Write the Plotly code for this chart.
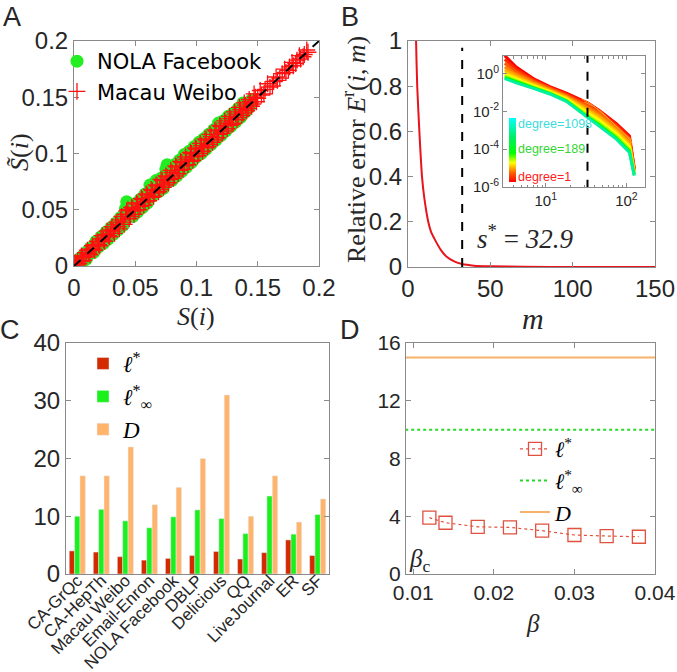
import plotly.graph_objects as go

W, H = 677, 672
SANS = "Liberation Sans, Arial, sans-serif"
WIDE = "DejaVu Sans, Verdana, sans-serif"
SERIF = "Liberation Serif, Times New Roman, serif"
AXC = "#8a8a8a"
TXT = "#262626"

# ---------------- Panel A data ----------------
nola_S = [0.000, 0.001, 0.002, 0.003, 0.004, 0.005, 0.006, 0.008, 0.009, 0.011, 0.012, 0.014, 0.015, 0.017, 0.019,
          0.021, 0.023, 0.025, 0.027, 0.029, 0.031, 0.033, 0.035, 0.037, 0.039, 0.041, 0.043, 0.044, 0.045, 0.047,
          0.049, 0.051, 0.053, 0.055, 0.057, 0.059, 0.061, 0.063, 0.065, 0.066, 0.068, 0.070, 0.072, 0.074, 0.076,
          0.077, 0.079, 0.081, 0.083, 0.085, 0.087, 0.089, 0.091, 0.093, 0.095, 0.097, 0.099, 0.101, 0.103, 0.105,
          0.107, 0.109, 0.111, 0.113, 0.115, 0.117, 0.119, 0.121, 0.123, 0.125, 0.127, 0.129, 0.131, 0.133, 0.135,
          0.137, 0.139, 0.141, 0.143, 0.145,
          0.002, 0.004, 0.007, 0.010, 0.013, 0.016, 0.018, 0.020, 0.022, 0.024, 0.026, 0.028, 0.030, 0.032, 0.034,
          0.036, 0.038, 0.040, 0.042, 0.046, 0.048, 0.050, 0.052, 0.054, 0.056, 0.058, 0.060, 0.062, 0.064, 0.067,
          0.069, 0.071, 0.073, 0.075, 0.078, 0.080, 0.082, 0.084, 0.086, 0.088, 0.090, 0.092, 0.094, 0.096, 0.098,
          0.100, 0.102, 0.104, 0.106, 0.108, 0.110, 0.112, 0.114, 0.116, 0.118, 0.120, 0.122, 0.124, 0.126, 0.128,
          0.130, 0.132, 0.134, 0.136, 0.138, 0.140]
nola_St = [0.001, 0.003, 0.001, 0.005, 0.003, 0.007, 0.005, 0.010, 0.007, 0.013, 0.010, 0.016, 0.013, 0.019, 0.017,
           0.023, 0.021, 0.028, 0.025, 0.032, 0.029, 0.036, 0.034, 0.040, 0.038, 0.045, 0.057, 0.054, 0.047, 0.046,
           0.052, 0.050, 0.056, 0.054, 0.061, 0.058, 0.065, 0.069, 0.073, 0.065, 0.072, 0.075, 0.070, 0.078, 0.090,
           0.085, 0.082, 0.080, 0.087, 0.084, 0.091, 0.096, 0.098, 0.095, 0.100, 0.096, 0.103, 0.105, 0.102, 0.109,
           0.108, 0.113, 0.110, 0.117, 0.119, 0.115, 0.124, 0.126, 0.122, 0.129, 0.126, 0.132, 0.134, 0.131, 0.139,
           0.136, 0.142, 0.144, 0.141, 0.148,
           0.004, 0.001, 0.004, 0.006, 0.016, 0.012, 0.022, 0.017, 0.026, 0.020, 0.030, 0.024, 0.034, 0.028, 0.038,
           0.032, 0.043, 0.036, 0.051, 0.055, 0.044, 0.055, 0.048, 0.059, 0.052, 0.064, 0.056, 0.072, 0.062, 0.076,
           0.066, 0.078, 0.069, 0.086, 0.088, 0.076, 0.090, 0.080, 0.094, 0.084, 0.099, 0.088, 0.102, 0.092, 0.106,
           0.097, 0.110, 0.100, 0.113, 0.104, 0.117, 0.108, 0.121, 0.112, 0.127, 0.116, 0.129, 0.120, 0.133, 0.124,
           0.136, 0.128, 0.140, 0.132, 0.145, 0.137]
macau_S = [0.000, 0.002, 0.003, 0.005, 0.007, 0.009, 0.010, 0.012, 0.014, 0.016, 0.018, 0.020, 0.022, 0.024, 0.026,
           0.028, 0.030, 0.032, 0.034, 0.036, 0.038, 0.040, 0.042, 0.044, 0.046, 0.048, 0.050, 0.052, 0.054, 0.056,
           0.058, 0.060, 0.062, 0.064, 0.066, 0.068, 0.070, 0.072, 0.074, 0.076, 0.078, 0.080, 0.082, 0.084, 0.086,
           0.088, 0.090, 0.092, 0.094, 0.096, 0.098, 0.100, 0.102, 0.104, 0.106, 0.108, 0.110, 0.112, 0.114, 0.116,
           0.118, 0.120, 0.122, 0.124, 0.126, 0.128, 0.130, 0.132, 0.134, 0.136, 0.138, 0.140, 0.142, 0.144, 0.146,
           0.148, 0.150, 0.153, 0.156, 0.160, 0.163, 0.166, 0.170, 0.173, 0.176, 0.179, 0.182, 0.185, 0.188, 0.191,
           0.001, 0.004, 0.006, 0.008, 0.011, 0.013, 0.015, 0.017, 0.019, 0.021, 0.023, 0.025, 0.027, 0.029, 0.031,
           0.033, 0.035, 0.037, 0.039, 0.041, 0.043, 0.045, 0.047, 0.049, 0.051, 0.053, 0.055, 0.057, 0.059, 0.061,
           0.063, 0.065, 0.067, 0.069, 0.071, 0.073, 0.075, 0.077, 0.079, 0.081, 0.083, 0.085, 0.087, 0.089, 0.091,
           0.093, 0.095, 0.097, 0.099, 0.101, 0.103, 0.105, 0.107, 0.109, 0.111, 0.113, 0.115, 0.117, 0.119, 0.121,
           0.123, 0.125, 0.127, 0.129, 0.131, 0.133, 0.135, 0.137, 0.139, 0.141, 0.143, 0.145, 0.147, 0.149, 0.152,
           0.155, 0.158, 0.162, 0.165, 0.168, 0.172, 0.175, 0.178, 0.181, 0.184, 0.187, 0.190]
macau_St = [0.000, 0.002, 0.005, 0.004, 0.008, 0.008, 0.012, 0.011, 0.015, 0.015, 0.019, 0.019, 0.024, 0.023, 0.028,
            0.027, 0.032, 0.031, 0.037, 0.035, 0.041, 0.039, 0.046, 0.050, 0.044, 0.051, 0.049, 0.055, 0.053, 0.059,
            0.057, 0.063, 0.061, 0.067, 0.065, 0.071, 0.068, 0.076, 0.072, 0.079, 0.077, 0.083, 0.080, 0.088, 0.085,
            0.092, 0.089, 0.095, 0.093, 0.100, 0.097, 0.104, 0.100, 0.107, 0.105, 0.112, 0.108, 0.115, 0.112, 0.120,
            0.117, 0.124, 0.120, 0.127, 0.125, 0.131, 0.127, 0.135, 0.132, 0.139, 0.136, 0.143, 0.140, 0.146, 0.144,
            0.150, 0.149, 0.152, 0.157, 0.159, 0.164, 0.165, 0.171, 0.172, 0.177, 0.178, 0.183, 0.184, 0.188, 0.190,
            0.003, 0.002, 0.009, 0.005, 0.014, 0.010, 0.018, 0.014, 0.022, 0.018, 0.027, 0.022, 0.031, 0.026, 0.035,
            0.029, 0.039, 0.033, 0.044, 0.037, 0.049, 0.042, 0.052, 0.046, 0.056, 0.050, 0.060, 0.054, 0.064, 0.058,
            0.068, 0.062, 0.072, 0.066, 0.077, 0.070, 0.080, 0.074, 0.085, 0.078, 0.089, 0.082, 0.093, 0.086, 0.097,
            0.090, 0.101, 0.094, 0.105, 0.098, 0.109, 0.102, 0.113, 0.106, 0.117, 0.110, 0.121, 0.114, 0.125, 0.118,
            0.129, 0.122, 0.133, 0.126, 0.137, 0.130, 0.141, 0.134, 0.145, 0.138, 0.148, 0.142, 0.153, 0.146, 0.156,
            0.153, 0.162, 0.160, 0.168, 0.167, 0.175, 0.174, 0.181, 0.180, 0.187, 0.186, 0.192]
diag_vals = [0.0, 0.2]

# ---------------- Panel B data ----------------
m_vals = [4.5, 4.9, 5.6, 6.9, 8.5, 10.0, 12.3, 14.0, 16.4, 20.0, 23.5, 28.0, 32.9, 40.0, 50.0, 70.0, 100.0, 150.0]
rel_err = [1.25, 1.0, 0.8, 0.6, 0.4, 0.3, 0.2, 0.155, 0.12, 0.075, 0.045, 0.025, 0.013, 0.006, 0.003, 0.001,
           0.0003, 0.0001]
s_star = 32.9
s_star_line_err = [0.0, 0.97]

inset_m = [3.1, 4.3, 7.0, 11.2, 18.0, 33.0, 46.0, 75.0, 109.0, 125.0]
# log10 of relative error, one list per degree class (degree=1 ... degree=1098)
inset_log_err = [
    [0.95, 0.35, -0.26, -0.69, -1.04, -1.55, -1.95, -2.65, -3.30, -5.00],
    [0.75, 0.22, -0.33, -0.74, -1.09, -1.62, -2.00, -2.72, -3.40, -5.05],
    [0.55, 0.10, -0.40, -0.79, -1.14, -1.70, -2.08, -2.80, -3.50, -5.10],
    [0.35, -0.02, -0.47, -0.84, -1.20, -1.80, -2.17, -2.90, -3.60, -5.15],
    [0.20, -0.12, -0.53, -0.88, -1.25, -1.90, -2.28, -3.00, -3.70, -5.20],
    [0.05, -0.22, -0.60, -0.93, -1.30, -2.00, -2.40, -3.10, -3.80, -5.25],
    [-0.05, -0.30, -0.65, -0.97, -1.35, -2.10, -2.50, -3.20, -3.90, -5.30],
    [-0.12, -0.37, -0.70, -1.01, -1.40, -2.20, -2.60, -3.30, -4.00, -5.32],
    [-0.20, -0.43, -0.74, -1.05, -1.44, -2.28, -2.70, -3.40, -4.10, -5.36],
    [-0.26, -0.49, -0.78, -1.08, -1.47, -2.34, -2.78, -3.47, -4.17, -5.40],
]
inset_colors = ["#FF0000", "#FF2A00", "#FF5500", "#FF8000", "#FFAA00", "#FFD400", "#FFFF00", "#AAFF00",
                "#00FF00", "#00F0A0"]
jag_m = [[28, 33, 50, 68, 89, 110, 117], [30, 40, 55, 75, 95, 112]]
jag_log_err = [[-1.35, -1.50, -2.05, -2.60, -3.10, -3.40, -3.70], [-1.50, -1.75, -2.25, -2.80, -3.20, -3.55]]
degree_labels = ["degree=1098", "degree=189", "degree=1"]
degree_label_colors = ["#3ADCDC", "#33D633", "#FF2020"]

# ---------------- Panel C data ----------------
networks = ["CA-GrQc", "CA-HepTh", "Macau Weibo", "Email-Enron", "NOLA Facebook", "DBLP", "Delicious", "QQ",
            "LiveJournal", "ER", "SF"]
l_star = [4.0, 3.8, 3.0, 2.4, 2.7, 3.2, 3.9, 2.6, 3.7, 5.9, 3.2]
l_inf = [10.0, 11.2, 9.2, 8.0, 9.9, 11.1, 9.6, 7.0, 13.5, 6.9, 10.3]
diam = [17, 17, 22, 12, 15, 20, 31, 10, 17, 9, 13]

# ---------------- Panel D data ----------------
beta = [0.012, 0.014, 0.018, 0.022, 0.026, 0.030, 0.034, 0.038]
l_star_beta = [3.9, 3.55, 3.27, 3.23, 3.0, 2.7, 2.63, 2.58]
beta_span = [0.009, 0.04]
l_inf_const = [10.0, 10.0]
diam_const = [15.0, 15.0]


def dx(a, b):
    return [a / W, b / W]


def dy(top, bottom):
    return [1 - bottom / H, 1 - top / H]


def axis(**kw):
    base = dict(showline=True, linecolor=AXC, linewidth=1, mirror="ticks", ticks="inside", ticklen=5,
                tickcolor=AXC, showgrid=False, zeroline=False, automargin=False, ticklabeloverflow="allow",
                tickfont=dict(family=SANS, size=24, color=TXT))
    base.update(kw)
    return base


fig = go.Figure()

# Panel A
fig.add_trace(go.Scatter(x=nola_S, y=nola_St, mode="markers", name="NOLA Facebook", xaxis="x", yaxis="y",
                         marker=dict(symbol="circle", size=13, color="#22EE22"), legend="legend"))
fig.add_trace(go.Scatter(x=macau_S, y=macau_St, mode="markers", name="Macau Weibo", xaxis="x", yaxis="y",
                         marker=dict(symbol="cross-thin", size=12, color="#FF1010",
                                     line=dict(width=1.3, color="#FF1010")), legend="legend"))
fig.add_trace(go.Scatter(x=diag_vals, y=diag_vals, mode="lines", xaxis="x", yaxis="y", showlegend=False,
                         line=dict(color="black", width=2, dash="dash")))

# Panel B main
fig.add_trace(go.Scatter(x=m_vals, y=rel_err, mode="lines", xaxis="x2", yaxis="y2", showlegend=False,
                         line=dict(color="#E8141B", width=2, shape="spline", smoothing=0.6)))
fig.add_trace(go.Scatter(x=[s_star, s_star], y=s_star_line_err, mode="lines", xaxis="x2", yaxis="y2",
                         showlegend=False, line=dict(color="black", width=2, dash="dash")))

# Panel B inset
for lv, col in zip(inset_log_err, inset_colors):
    fig.add_trace(go.Scatter(x=inset_m, y=[10 ** v for v in lv], mode="lines", xaxis="x3", yaxis="y3",
                             showlegend=False, line=dict(color=col, width=3)))
for ms, lv in zip(jag_m, jag_log_err):
    fig.add_trace(go.Scatter(x=ms, y=[10 ** v for v in lv], mode="lines", xaxis="x3", yaxis="y3",
                             showlegend=False, line=dict(color="#FF9A20", width=1)))
fig.add_trace(go.Scatter(x=[s_star, s_star], y=[1e-8, 1e2], mode="lines", xaxis="x3", yaxis="y3",
                         showlegend=False, line=dict(color="black", width=2, dash="dash")))
fig.add_trace(go.Scatter(x=[10], y=[1e-3], mode="markers", xaxis="x3", yaxis="y3", showlegend=False,
                         hoverinfo="skip",
                         marker=dict(color=[0], cmin=0, cmax=1, opacity=0, showscale=True,
                                     colorscale=[[0, "#FF0000"], [0.15, "#FF6600"], [0.3, "#FFFF00"],
                                                 [0.45, "#00FF00"], [0.7, "#00EE66"], [1, "#00FFFF"]],
                                     colorbar=dict(x=509 / W, xanchor="left", y=1 - 150 / H, yanchor="middle",
                                                   lenmode="pixels", len=64, thickness=7, outlinewidth=0,
                                                   ticks="", showticklabels=False, xpad=0, ypad=0))))

# Panel C
fig.add_trace(go.Bar(x=networks, y=l_star, name="<i>ℓ</i><sup>*</sup>", marker_color="#D42A00",
                     xaxis="x4", yaxis="y4", legend="legend2"))
fig.add_trace(go.Bar(x=networks, y=l_inf, name="<i>ℓ</i><sup>*</sup><sub>∞</sub>", marker_color="#1AF01A",
                     xaxis="x4", yaxis="y4", legend="legend2"))
fig.add_trace(go.Bar(x=networks, y=diam, name="<i>D</i>", marker_color="#FFB36B",
                     xaxis="x4", yaxis="y4", legend="legend2"))

# Panel D
fig.add_trace(go.Scatter(x=beta, y=l_star_beta, mode="lines+markers", name="<i>ℓ</i><sup>*</sup>",
                         xaxis="x5", yaxis="y5", legend="legend3",
                         line=dict(color="#E0523F", width=1.2, dash="dot"),
                         marker=dict(symbol="square-open", size=13, color="#E0523F", line=dict(width=1.3))))
fig.add_trace(go.Scatter(x=beta_span, y=l_inf_const, mode="lines", name="<i>ℓ</i><sup>*</sup><sub>∞</sub>",
                         xaxis="x5", yaxis="y5", legend="legend3",
                         line=dict(color="#2BD62B", width=2, dash="dot")))
fig.add_trace(go.Scatter(x=beta_span, y=diam_const, mode="lines", name="<i>D</i>",
                         xaxis="x5", yaxis="y5", legend="legend3",
                         line=dict(color="#F6B26B", width=2)))

ann = []


def text(x, y, t, size, family=SANS, color=TXT, angle=0, xanchor="center"):
    ann.append(dict(x=x / W, y=1 - y / H, xref="paper", yref="paper", text=t, showarrow=False,
                    font=dict(family=family, size=size, color=color), textangle=angle,
                    xanchor=xanchor, yanchor="middle"))


text(12, 17, "A", 27)
text(350, 17, "B", 27)
text(10, 330, "C", 27)
text(350, 330, "D", 27)
text(196, 316, "<i>S</i>(<i>i</i>)", 26, SERIF)
text(20, 152, "<i>S\u0303</i>(<i>i</i>)", 26, SERIF, angle=-90)
text(354, 150, "Relative error <i>E</i><sup>r</sup>(<i>i</i>,\u2009<i>m</i>)", 26, SERIF, angle=-90)
text(533, 318, "<i>m</i>", 30, SERIF)
text(475, 237, "<i>s</i><sup>*</sup> = <i>32.9</i>", 27, SERIF, xanchor="left")
text(533, 623, "<i>β</i>", 25, SERIF)
text(419, 560, "<i>β</i><sub>c</sub>", 25, SERIF)
for lab, col, yy in zip(degree_labels, degree_label_colors, [124, 149, 177]):
    text(516, yy, lab, 12.5, SANS, col, xanchor="left")

fig.update_layout(
    width=W, height=H, margin=dict(l=0, r=0, t=0, b=0, autoexpand=False),
    paper_bgcolor="white", plot_bgcolor="white",
    hovermode=False, barmode="group", bargap=0.33, bargroupgap=0,
    xaxis=axis(domain=dx(74, 319), range=[0, 0.2], tickvals=[0, 0.05, 0.1, 0.15, 0.2],
               ticktext=["0", "0.05", "0.1", "0.15", "0.2"], anchor="y"),
    yaxis=axis(domain=dy(41, 266), range=[0, 0.2], tickvals=[0, 0.05, 0.1, 0.15, 0.2],
               ticktext=["0", "0.05", "0.1", "0.15", "0.2"], anchor="x"),
    xaxis2=axis(domain=dx(408, 655), range=[0, 150], tickvals=[0, 50, 100, 150], anchor="y2"),
    yaxis2=axis(domain=dy(41, 267), range=[0, 1], tickvals=[0, 0.2, 0.4, 0.6, 0.8, 1],
                ticktext=["0", "0.2", "0.4", "0.6", "0.8", "1"], anchor="x2"),
    xaxis3=axis(domain=dx(503, 645), type="log", range=[0.47, 2.23], tickvals=[10, 100],
                ticktext=["10<sup>1</sup>", "10<sup>2</sup>"], anchor="y3", ticklen=4,
                tickfont=dict(family=SANS, size=15, color=TXT),
                minor=dict(tickvals=[3, 4, 5, 6, 7, 8, 9, 20, 30, 40, 50, 60, 70, 80, 90], ticks="inside",
                           ticklen=2.5, tickcolor=AXC)),
    yaxis3=axis(domain=dy(56, 187), type="log", range=[-6.0, 0.93], tickvals=[1e-6, 1e-4, 1e-2, 1],
                ticktext=["10<sup>-6</sup>", "10<sup>-4</sup>", "10<sup>-2</sup>", "10<sup>0</sup>"],
                anchor="x3", ticklen=4, tickfont=dict(family=SANS, size=15, color=TXT)),
    xaxis4=axis(domain=dx(66, 329), range=[-0.47, 10.47], ticks="", tickangle=-45, anchor="y4",
                ticklabelstandoff=-11, tickfont=dict(family=SANS, size=17, color=TXT)),
    yaxis4=axis(domain=dy(343, 574), range=[0, 40], tickvals=[0, 10, 20, 30, 40], anchor="x4"),
    xaxis5=axis(domain=dx(406, 655), range=[0.0091, 0.04], tickvals=[0.01, 0.02, 0.03, 0.04], anchor="y5",
                tickfont=dict(family=SANS, size=21, color=TXT)),
    yaxis5=axis(domain=dy(343, 574), range=[0, 16], tickvals=[0, 4, 8, 12, 16], anchor="x5",
                tickfont=dict(family=SANS, size=21, color=TXT)),
    legend=dict(x=57 / W, y=1 - 41 / H, xanchor="left", yanchor="top", bgcolor="rgba(0,0,0,0)",
                font=dict(family=WIDE, size=21, color="black"), tracegroupgap=0),
    legend2=dict(x=83 / W, y=1 - 342 / H, xanchor="left", yanchor="top", bgcolor="rgba(0,0,0,0)",
                 font=dict(family=SERIF, size=23, color="black"), tracegroupgap=0),
    legend3=dict(x=515 / W, y=1 - 428 / H, xanchor="left", yanchor="top", bgcolor="rgba(0,0,0,0)",
                 font=dict(family=SERIF, size=22, color="black"), tracegroupgap=0),
    annotations=ann,
)

fig.write_html("out.html", config={"displayModeBar": False},
               post_script="document.body.style.margin='0';document.body.style.overflow='hidden';"
                           "document.documentElement.style.overflow='hidden';")
